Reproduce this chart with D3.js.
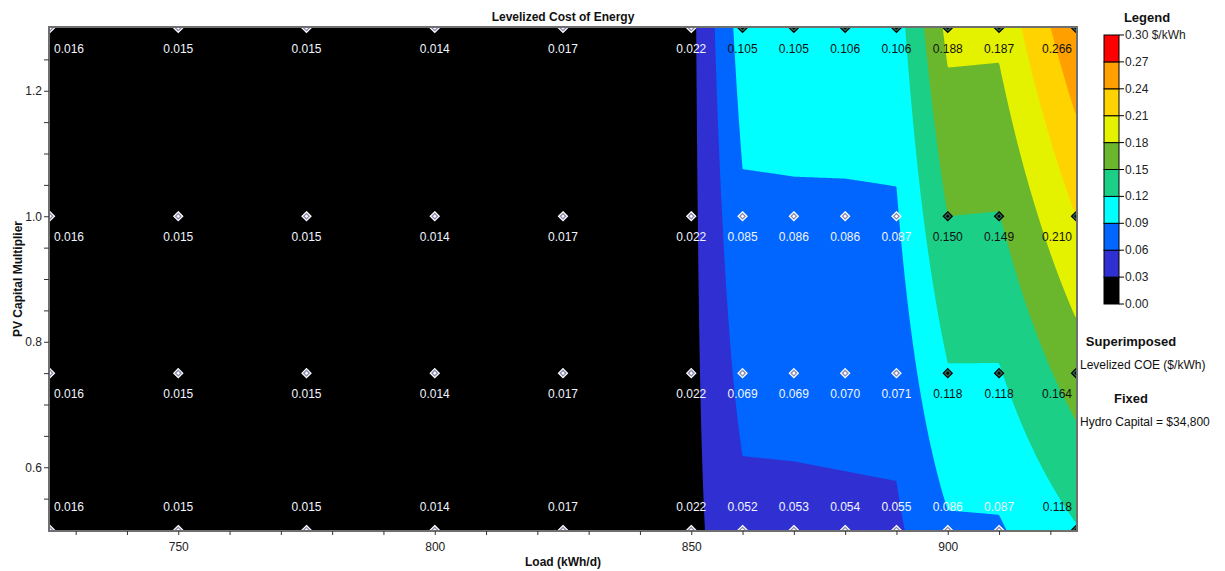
<!DOCTYPE html>
<html><head><meta charset="utf-8">
<script src="https://cdn.jsdelivr.net/npm/d3@7"></script>
<style>
body{margin:0;background:#fff}
text{font-family:"Liberation Sans",Arial,sans-serif}
</style>
</head><body>
<svg id="chart" width="1225" height="571"></svg>
<script>
// ---- data ----
const loads = [725, 750, 775, 800, 825, 850, 860, 870, 880, 890, 900, 910, 925];
const pvMultipliers = [0.5, 0.75, 1.0, 1.3];
const coeAt0_50 = [0.016, 0.015, 0.015, 0.014, 0.017, 0.022, 0.052, 0.053, 0.054, 0.055, 0.086, 0.087, 0.118];
const coeAt0_75 = [0.016, 0.015, 0.015, 0.014, 0.017, 0.022, 0.069, 0.069, 0.070, 0.071, 0.118, 0.118, 0.164];
const coeAt1_00 = [0.016, 0.015, 0.015, 0.014, 0.017, 0.022, 0.085, 0.086, 0.086, 0.087, 0.150, 0.149, 0.210];
const coeAt1_30 = [0.016, 0.015, 0.015, 0.014, 0.017, 0.022, 0.105, 0.105, 0.106, 0.106, 0.188, 0.187, 0.266];
const coeRows = [coeAt0_50, coeAt0_75, coeAt1_00, coeAt1_30];
const legendBreaks = [0, 0.03, 0.06, 0.09, 0.12, 0.15, 0.18, 0.21, 0.24, 0.27, 0.30];
const bandColors = ["#000000", "#3030d2", "#0066ff", "#00ffff", "#1ccf86", "#6ab62d", "#e4f200", "#ffd300", "#ffa000", "#ff0000"];
const xMajorTicks = [750, 800, 850, 900];
const xMinorTicks = d3.range(73, 93).map(d => d * 10);
const yMajorTicks = [0.6, 0.8, 1.0, 1.2];
const yMinorTicks = d3.range(11, 26).map(d => +(d * 0.05).toFixed(2));

// ---- layout ----
const L = 50, R = 1076, T = 28, B = 530;
const svg = d3.select("#chart");
const x = d3.scaleLinear().domain([725, 925]).range([L, R]);
const y = d3.scaleLinear().domain([0.5, 1.3]).range([B, T]);

function bilinear(xv, yv) {
  let i = d3.bisectRight(loads, xv) - 1;
  i = Math.max(0, Math.min(loads.length - 2, i));
  let j = d3.bisectRight(pvMultipliers, yv) - 1;
  j = Math.max(0, Math.min(pvMultipliers.length - 2, j));
  const tx = Math.max(0, Math.min(1, (xv - loads[i]) / (loads[i + 1] - loads[i])));
  const ty = Math.max(0, Math.min(1, (yv - pvMultipliers[j]) / (pvMultipliers[j + 1] - pvMultipliers[j])));
  const a = coeRows[j][i], b = coeRows[j][i + 1], c = coeRows[j + 1][i], d = coeRows[j + 1][i + 1];
  return (1 - ty) * ((1 - tx) * a + tx * b) + ty * ((1 - tx) * c + tx * d);
}

// raster grid in pixel space
const nx = R - L, ny = B - T;
const values = new Float64Array(nx * ny);
for (let r = 0; r < ny; r++) {
  const yv = y.invert(T + r + 0.5);
  for (let c = 0; c < nx; c++) {
    values[r * nx + c] = bilinear(x.invert(L + c + 0.5), yv);
  }
}
const contours = d3.contours().size([nx, ny]).thresholds(legendBreaks.slice(1, -1))(values);

svg.append("defs").append("clipPath").attr("id", "plotclip")
  .append("rect").attr("x", L).attr("y", T).attr("width", R - L).attr("height", B - T);

const plot = svg.append("g").attr("clip-path", "url(#plotclip)");
plot.append("rect").attr("x", L).attr("y", T).attr("width", R - L).attr("height", B - T).attr("fill", bandColors[0]);
const path = d3.geoPath();
plot.append("g").attr("transform", `translate(${L},${T})`)
  .selectAll("path").data(contours).join("path")
  .attr("d", path)
  .attr("fill", (d, k) => bandColors[k + 1]);

// markers
const points = [];
pvMultipliers.forEach((pv, j) => loads.forEach((ld, i) => points.push({ i, j, ld, pv, v: coeRows[j][i] })));
const mk = plot.append("g").selectAll("g").data(points).join("g")
  .attr("transform", d => `translate(${x(d.ld)},${y(d.pv)})`);
mk.append("path").attr("d", "M0,-4.5L4.5,0L0,4.5L-4.5,0Z")
  .attr("fill", d => d.v >= 0.09 ? "#2a6a55" : "#8a8ab0")
  .attr("stroke", d => d.v >= 0.09 ? "#000" : "#fff").attr("stroke-width", 1.2);
mk.append("path").attr("d", "M0,-1.8L1.8,0L0,1.8L-1.8,0Z")
  .attr("fill", d => d.v >= 0.09 ? "#000" : "#fff");

// value labels
const fmt = d3.format(".3f");
plot.append("g").selectAll("text").data(points).join("text")
  .attr("x", d => d.i === 0 ? x(d.ld) + 4 : d.i === loads.length - 1 ? x(d.ld) - 4 : x(d.ld))
  .attr("y", d => d.j === 0 ? y(d.pv) - 23 : y(d.pv) + 21)
  .attr("dominant-baseline", "central")
  .attr("text-anchor", d => d.i === 0 ? "start" : d.i === loads.length - 1 ? "end" : "middle")
  .attr("font-size", 12)
  .attr("fill", d => d.v >= 0.09 ? "#111" : "#f2f5ff")
  .text(d => fmt(d.v));

// frame
svg.append("rect").attr("x", L - 1).attr("y", T - 1).attr("width", R - L + 2).attr("height", B - T + 2)
  .attr("fill", "none").attr("stroke", "#6f6f6f").attr("stroke-width", 2);

// axes
const xAxis = d3.axisBottom(x).tickValues(xMinorTicks).tickSize(4).tickPadding(7)
  .tickFormat(d => xMajorTicks.includes(d) ? String(d) : "");
const gx = svg.append("g").attr("transform", `translate(0,${B + 1})`).call(xAxis);
gx.select(".domain").remove();
gx.selectAll("line").attr("stroke", "#333");
gx.selectAll("text").attr("font-size", 12).attr("fill", "#222").attr("font-family", "Liberation Sans, Arial, sans-serif");

const yAxis = d3.axisLeft(y).tickValues(yMinorTicks).tickSize(5).tickPadding(2)
  .tickFormat(d => yMajorTicks.some(t => Math.abs(t - d) < 1e-6) ? d3.format(".1f")(d) : "");
const gy = svg.append("g").attr("transform", `translate(${L - 1},0)`).call(yAxis);
gy.select(".domain").remove();
gy.selectAll("line").attr("stroke", "#333");
gy.selectAll("text").attr("font-size", 12).attr("fill", "#222").attr("font-family", "Liberation Sans, Arial, sans-serif");

// titles
svg.append("text").attr("x", (L + R) / 2).attr("y", 17).attr("text-anchor", "middle")
  .attr("dominant-baseline", "central").attr("font-size", 12).attr("font-weight", "bold").attr("fill", "#111")
  .text("Levelized Cost of Energy");
svg.append("text").attr("x", (L + R) / 2).attr("y", 562).attr("text-anchor", "middle")
  .attr("dominant-baseline", "central").attr("font-size", 12).attr("font-weight", "bold").attr("fill", "#111")
  .text("Load (kWh/d)");
svg.append("text").attr("transform", `translate(18,${(T + B) / 2}) rotate(-90)`).attr("text-anchor", "middle")
  .attr("dominant-baseline", "central").attr("font-size", 12).attr("font-weight", "bold").attr("fill", "#111")
  .text("PV Capital Multiplier");

// legend
const yL = d3.scaleLinear().domain([0, 0.30]).range([304, 35]);
const lg = svg.append("g");
lg.append("text").attr("x", 1147).attr("y", 17).attr("text-anchor", "middle").attr("dominant-baseline", "central")
  .attr("font-size", 13).attr("font-weight", "bold").attr("fill", "#111").text("Legend");
lg.selectAll("rect").data(bandColors).join("rect")
  .attr("x", 1104).attr("width", 15)
  .attr("y", (c, k) => yL(legendBreaks[k + 1]))
  .attr("height", (c, k) => yL(legendBreaks[k]) - yL(legendBreaks[k + 1]))
  .attr("fill", c => c).attr("stroke", "#000").attr("stroke-width", 1);
lg.selectAll("line").data(legendBreaks).join("line")
  .attr("x1", 1119).attr("x2", 1124).attr("y1", d => yL(d)).attr("y2", d => yL(d))
  .attr("stroke", "#000");
lg.selectAll("text.lab").data(legendBreaks).join("text").attr("class", "lab")
  .attr("x", 1125).attr("y", d => yL(d)).attr("dominant-baseline", "central")
  .attr("font-size", 12).attr("fill", "#222")
  .text((d, k) => d3.format(".2f")(d) + (k === legendBreaks.length - 1 ? " $/kWh" : ""));

const info = [
  { t: "Superimposed", y: 341, bold: true },
  { t: "Levelized COE ($/kWh)", y: 365, bold: false },
  { t: "Fixed", y: 398, bold: true },
  { t: "Hydro Capital = $34,800", y: 422, bold: false }
];
svg.append("g").selectAll("text").data(info).join("text")
  .attr("x", d => d.bold ? 1131 : 1080).attr("y", d => d.y)
  .attr("text-anchor", d => d.bold ? "middle" : "start").attr("dominant-baseline", "central")
  .attr("font-size", d => d.bold ? 13 : 12).attr("font-weight", d => d.bold ? "bold" : "normal")
  .attr("fill", "#111").text(d => d.t);
</script>
</body></html>
